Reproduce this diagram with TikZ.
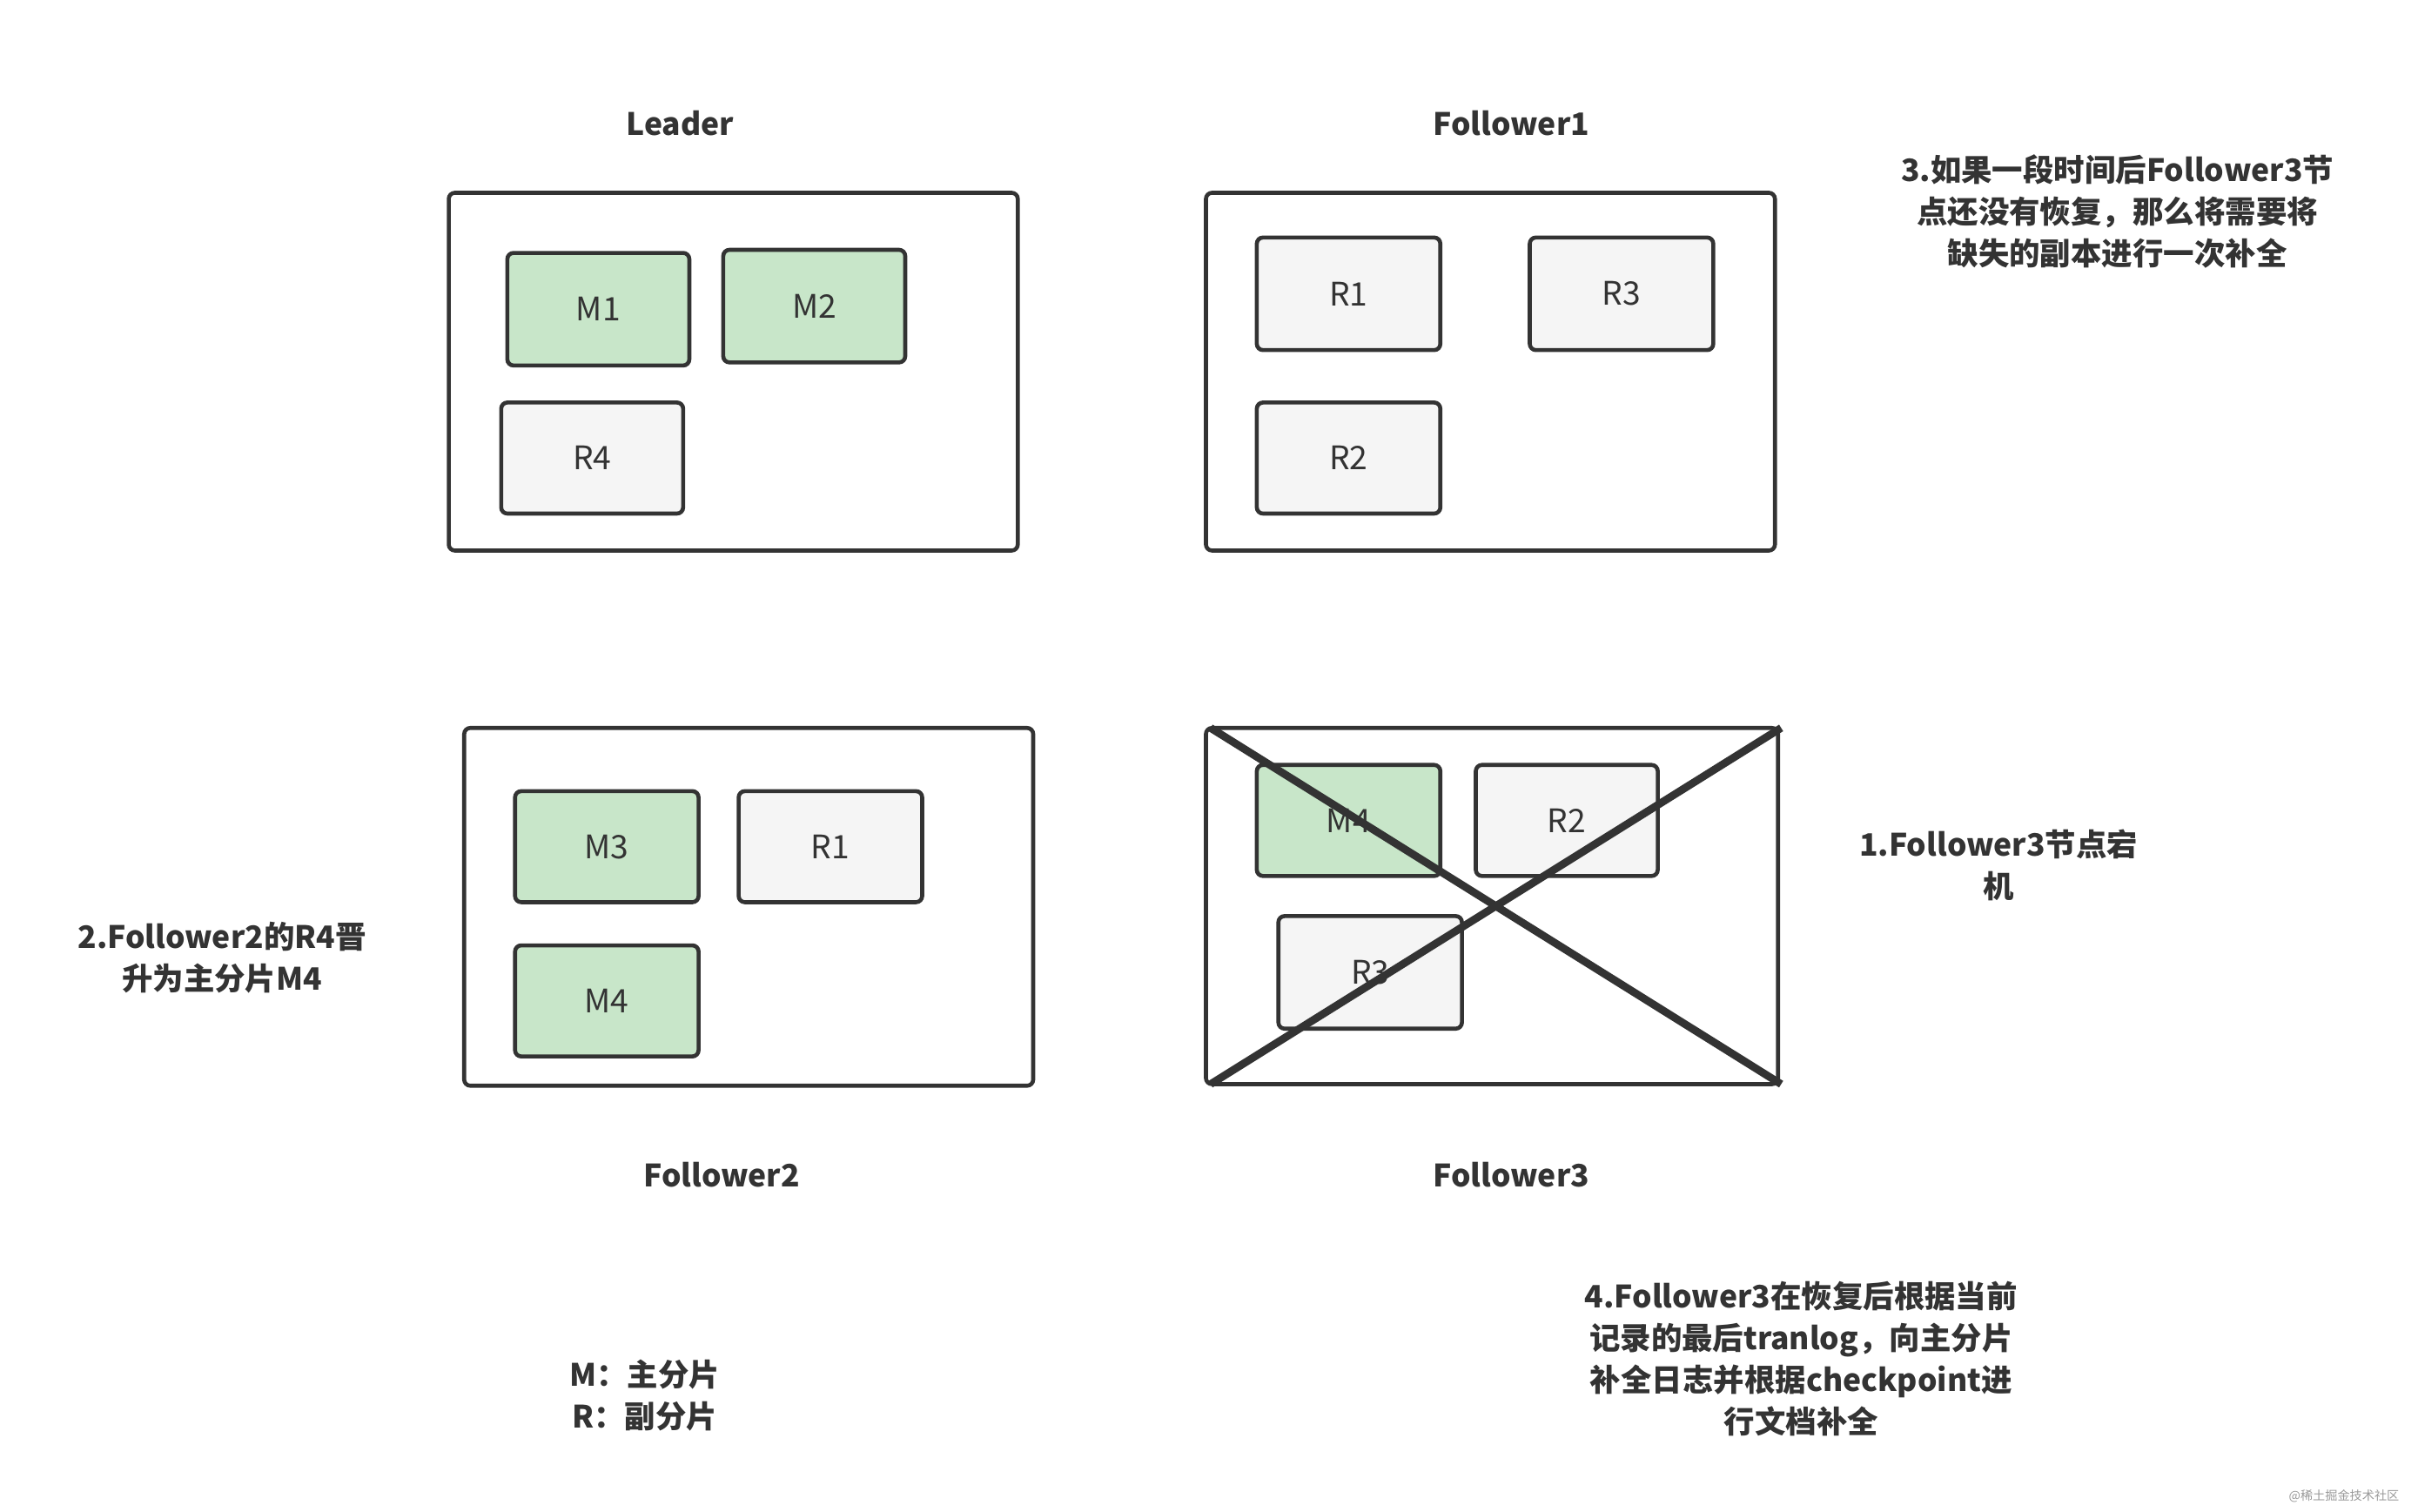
\documentclass[tikz,border=0pt]{standalone}
\usepackage{fontspec}
\setmainfont{Noto Sans CJK SC}
\begin{document}
\begin{tikzpicture}[x=1pt,y=-1pt,
 big/.style={draw=black!80,line width=2.6pt,rounded corners=4pt},
 sm/.style={draw=black!80,line width=2.6pt,rounded corners=4pt,fill=black!4,font=\fontsize{21}{25}\selectfont,text=black!80},
 gr/.style={sm,fill=green!40!black!12!white,fill={rgb,255:red,200;green,230;blue,201}},
 ttl/.style={font=\bfseries\fontsize{20}{26}\selectfont,text=black!80},
 note/.style={font=\bfseries\fontsize{20}{27}\selectfont,text=black!80,align=center}]
\useasboundingbox (0,0) rectangle (1568,980);
\node[ttl] (tl) at (441,80) {Leader};
\node[ttl] (t1) at (980,80) {Follower1};
\node[ttl] (t2) at (468,762) {Follower2};
\node[ttl] (t3) at (980,762) {Follower3};
\draw[big] (291,125) rectangle (660,357);
\draw[big] (782,125) rectangle (1151,357);
\draw[big] (301,472) rectangle (670,704);
\draw[big] (782,472) rectangle (1153,703);
\newcommand\bx[4]{\draw[#1] (#2) rectangle ++(119,72) node[midway]{#3};}
\draw[gr] (329,164) rectangle ++(118,73) node[midway] (a1) {M1};
\draw[gr] (469,162) rectangle ++(118,73) node[midway] (a2) {M2};
\draw[sm] (325,261) rectangle ++(118,72) node[midway] (a3) {R4};
\draw[sm] (815,154) rectangle ++(119,73) node[midway] (b1) {R1};
\draw[sm] (992,154) rectangle ++(119,73) node[midway] (b2) {R3};
\draw[sm] (815,261) rectangle ++(119,72) node[midway] (b3) {R2};
\draw[gr] (334,513) rectangle ++(119,72) node[midway] (c1) {M3};
\draw[sm] (479,513) rectangle ++(119,72) node[midway] (c2) {R1};
\draw[gr] (334,613) rectangle ++(119,72) node[midway] (c3) {M4};
\draw[gr] (815,496) rectangle ++(119,72) node[midway] (d1) {M4};
\draw[sm] (957,496) rectangle ++(118,72) node[midway] (d2) {R2};
\draw[sm] (829,594) rectangle ++(119,73) node[midway] (d3) {R3};
\coordinate (x1) at (785,472); \coordinate (x2) at (1155,703);
\coordinate (x3) at (785,703); \coordinate (x4) at (1155,472);
\draw[line width=5pt,black!80] (x1) -- (x2);
\draw[line width=5pt,black!80] (x3) -- (x4);
\node[note] (n3) at (1373,137) {3.如果一段时间后Follower3节\\点还没有恢复，那么将需要将\\缺失的副本进行一次补全};
\node[note] (n1) at (1296,561) {1.Follower3节点宕\\机};
\node[note] (n2) at (144,621) {2.Follower2的R4晋\\升为主分片M4};
\node[note] (n4) at (1168,881) {4.Follower3在恢复后根据当前\\记录的最后tranlog，向主分片\\补全日志并根据checkpoint进\\行文档补全};
\node[note] (n5) at (418,905) {M：主分片\\R：副分片};
\node[font=\fontsize{8}{10}\selectfont,text=black!40] (w) at (1520,970) {@稀土掘金技术社区};
\end{tikzpicture}
\end{document}
